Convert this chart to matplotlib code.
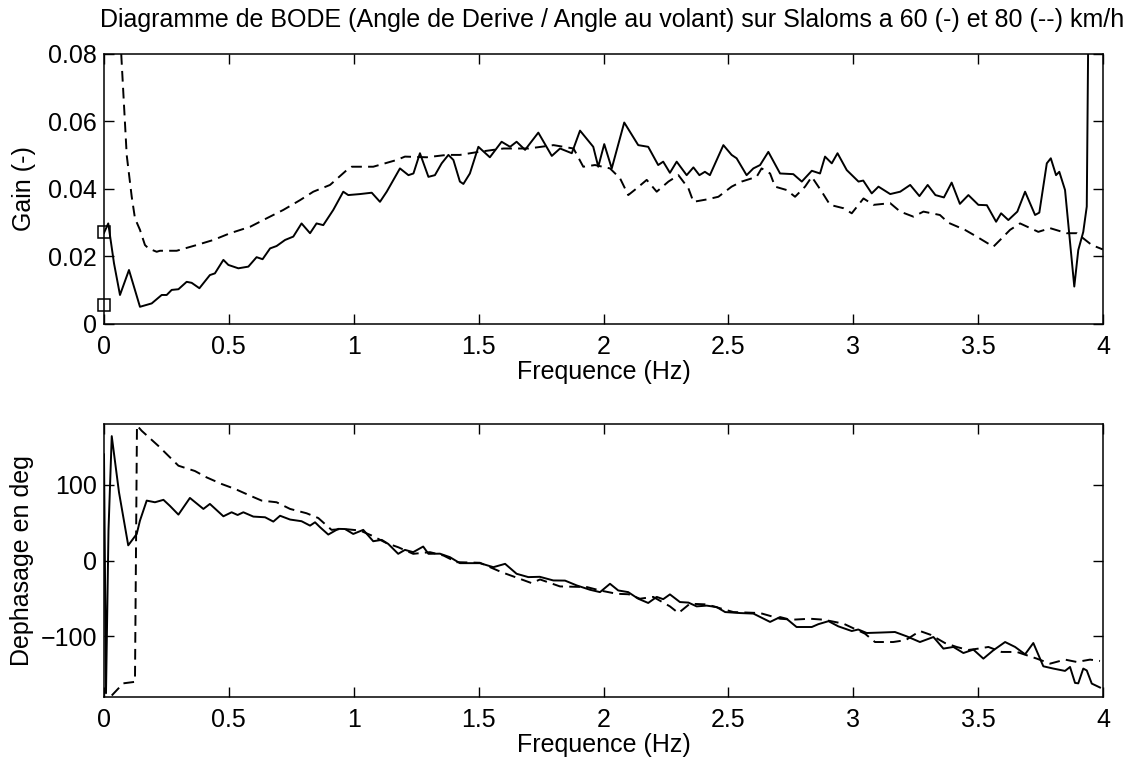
import matplotlib
matplotlib.use("Agg")
import matplotlib.pyplot as plt
import numpy as np

plt.rcParams['font.family'] = ['Liberation Sans', 'DejaVu Sans']

# ---- Gain, 60 km/h (solid) ----
f_gain_60 = [0.0, 0.017, 0.04, 0.064, 0.10, 0.144, 0.191, 0.231, 0.251, 0.271, 0.298, 0.331, 0.351, 0.382,
             0.424, 0.444, 0.478, 0.498, 0.538, 0.578, 0.611, 0.635, 0.665, 0.691, 0.725, 0.758, 0.791, 0.825,
             0.851, 0.878, 0.918, 0.958, 0.978, 1.025, 1.072, 1.105, 1.132, 1.185, 1.219, 1.239, 1.265, 1.299,
             1.325, 1.352, 1.379, 1.399, 1.425, 1.439, 1.465, 1.499, 1.545, 1.592, 1.626, 1.652, 1.686, 1.739,
             1.793, 1.826, 1.873, 1.906, 1.959, 1.979, 2.003, 2.033, 2.083, 2.139, 2.179, 2.219, 2.239, 2.266,
             2.293, 2.333, 2.360, 2.384, 2.406, 2.426, 2.480, 2.513, 2.533, 2.573, 2.600, 2.627, 2.660, 2.707,
             2.760, 2.794, 2.834, 2.867, 2.887, 2.914, 2.937, 2.974, 3.021, 3.040, 3.074, 3.101, 3.148, 3.188,
             3.228, 3.265, 3.298, 3.329, 3.363, 3.394, 3.427, 3.461, 3.501, 3.535, 3.572, 3.592, 3.621, 3.657,
             3.688, 3.728, 3.745, 3.775, 3.791, 3.812, 3.825, 3.848, 3.885, 3.901, 3.921, 3.935, 3.942]
gain_60 = [0.027, 0.0298, 0.018, 0.0086, 0.016, 0.0051, 0.0061, 0.0086, 0.0086, 0.0101, 0.0103, 0.0125, 0.0122, 0.0106,
           0.0145, 0.0150, 0.0190, 0.0175, 0.0165, 0.0170, 0.0198, 0.0192, 0.0224, 0.0231, 0.0249, 0.0259, 0.0298, 0.0269,
           0.0298, 0.0293, 0.0338, 0.0392, 0.0382, 0.0385, 0.0389, 0.0362, 0.0392, 0.0461, 0.0441, 0.0446, 0.0506, 0.0436,
           0.0441, 0.0476, 0.0501, 0.0486, 0.0422, 0.0415, 0.0446, 0.0525, 0.0494, 0.0540, 0.0525, 0.0540, 0.0516, 0.0567,
           0.0498, 0.0520, 0.0506, 0.0573, 0.0525, 0.0466, 0.0533, 0.0461, 0.0597, 0.0530, 0.0525, 0.0471, 0.0481, 0.0448,
           0.0481, 0.0441, 0.0464, 0.0441, 0.0451, 0.0441, 0.0530, 0.0501, 0.0491, 0.0441, 0.0461, 0.0471, 0.0510, 0.0446,
           0.0444, 0.0422, 0.0454, 0.0446, 0.0496, 0.0476, 0.0506, 0.0456, 0.0422, 0.0425, 0.0387, 0.0407, 0.0385, 0.0392,
           0.0412, 0.0379, 0.0412, 0.0382, 0.0375, 0.0419, 0.0356, 0.0382, 0.0353, 0.0352, 0.0303, 0.0328, 0.0308, 0.0333,
           0.0392, 0.0323, 0.0330, 0.0476, 0.0491, 0.0441, 0.0451, 0.0397, 0.0111, 0.0219, 0.0273, 0.0348, 0.0950]

# ---- Gain, 80 km/h (dashed) ----
f_gain_80 = [0.062, 0.071, 0.091, 0.111, 0.124, 0.144, 0.164, 0.178, 0.211, 0.224, 0.291, 0.371, 0.438, 0.505,
             0.585, 0.651, 0.718, 0.785, 0.838, 0.905, 0.972, 0.992, 1.078, 1.172, 1.205, 1.292, 1.372, 1.425,
             1.5, 1.6, 1.7, 1.8, 1.88, 1.919, 1.966, 2.026, 2.066, 2.099, 2.133, 2.173, 2.213, 2.260, 2.300,
             2.340, 2.360, 2.413, 2.460, 2.513, 2.553, 2.613, 2.633, 2.667, 2.687, 2.733, 2.767, 2.807, 2.834,
             2.874, 2.907, 2.961, 2.994, 3.041, 3.081, 3.148, 3.188, 3.241, 3.281, 3.347, 3.381, 3.447, 3.494,
             3.561, 3.588, 3.628, 3.668, 3.741, 3.788, 3.855, 3.895, 3.955, 3.999]
gain_80 = [0.090, 0.0772, 0.050, 0.0377, 0.0313, 0.0279, 0.0234, 0.0224, 0.0214, 0.0217, 0.0217, 0.0234, 0.0249, 0.0269,
           0.0288, 0.0313, 0.0338, 0.0367, 0.0392, 0.0412, 0.0456, 0.0466, 0.0466, 0.0486, 0.0496, 0.0494, 0.0501, 0.0501,
           0.051, 0.052, 0.052, 0.053, 0.052, 0.0466, 0.0471, 0.0461, 0.0432, 0.0382, 0.0402, 0.0427, 0.0392, 0.0422, 0.0441,
           0.0402, 0.0362, 0.0369, 0.0377, 0.0407, 0.0422, 0.0436, 0.0461, 0.0446, 0.0407, 0.0397, 0.0377, 0.0407, 0.0436,
           0.0392, 0.0353, 0.0343, 0.0328, 0.0372, 0.0353, 0.0358, 0.0333, 0.0318, 0.0333, 0.0323, 0.0300, 0.0279, 0.0259,
           0.0229, 0.0249, 0.0279, 0.0298, 0.0273, 0.0284, 0.0269, 0.0269, 0.0234, 0.0221]

# ---- square markers at f = 0 ----
f_marks = [0.0, 0.0]
gain_marks = [0.0273, 0.0056]

# ---- Phase, 60 km/h (solid) ----
f_phase_60 = [0.0, 0.008, 0.018, 0.031, 0.06, 0.097, 0.131, 0.144, 0.171, 0.204, 0.238, 0.264, 0.298, 0.344, 0.398,
              0.424, 0.478, 0.511, 0.535, 0.558, 0.598, 0.645, 0.678, 0.705, 0.745, 0.791, 0.825, 0.845, 0.865,
              0.898, 0.938, 0.965, 0.998, 1.038, 1.078, 1.112, 1.138, 1.178, 1.205, 1.238, 1.278, 1.299, 1.345,
              1.385, 1.425, 1.505, 1.559, 1.606, 1.652, 1.699, 1.745, 1.799, 1.846, 1.893, 1.946, 1.986, 2.026,
              2.059, 2.099, 2.139, 2.179, 2.213, 2.239, 2.266, 2.306, 2.340, 2.373, 2.413, 2.453, 2.487, 2.547,
              2.600, 2.667, 2.707, 2.733, 2.773, 2.834, 2.860, 2.901, 2.940, 2.994, 3.020, 3.054, 3.110, 3.167,
              3.214, 3.267, 3.321, 3.361, 3.401, 3.441, 3.481, 3.521, 3.561, 3.608, 3.648, 3.688, 3.721, 3.761,
              3.801, 3.848, 3.868, 3.888, 3.901, 3.921, 3.935, 3.955, 3.988]
phase_60 = [140, -175, 40, 164, 90, 20, 35, 52.6, 79, 76.8, 80, 72, 60.5, 82.5, 68,
            74.6, 58.3, 63.6, 60, 63.6, 57.9, 57, 51.3, 59, 54, 51.8, 46, 50.4, 43.9,
            34.2, 41.7, 41.5, 35, 40.4, 25.4, 27.2, 21.9, 8.8, 14, 11, 18.4, 8.8, 9,
            4.4, -3.5, -3.5, -8.8, -4.4, -17.5, -21.9, -21.5, -26.3, -26.5, -32.9, -38.6, -41.7, -30.7,
            -39.5, -41.7, -50.4, -56, -48, -51, -44.7, -54.8, -55.5, -60.5, -59.5, -61.4, -68, -69.3,
            -70, -81, -74.6, -76.8, -87.7, -87.7, -84, -80, -86.8, -93, -91, -95.6, -95, -94.3,
            -100, -107.5, -100.9, -116.2, -114, -122, -117.5, -129.4, -118.4, -107.5, -114, -123.7, -108.8, -139.5,
            -142.5, -145.6, -140.4, -161.4, -162, -142.5, -145, -162.3, -167.5]

# ---- Phase, 80 km/h (dashed) ----
f_phase_80 = [0.031, 0.077, 0.124, 0.132, 0.151, 0.218, 0.298, 0.364, 0.411, 0.471, 0.525, 0.585, 0.631, 0.691,
              0.745, 0.811, 0.858, 0.911, 0.958, 1.025, 1.072, 1.132, 1.178, 1.238, 1.305, 1.359, 1.412, 1.505,
              1.592, 1.639, 1.712, 1.746, 1.826, 1.933, 1.986, 2.053, 2.100, 2.146, 2.199, 2.266, 2.300, 2.346,
              2.413, 2.520, 2.627, 2.707, 2.760, 2.827, 2.880, 2.961, 3.047, 3.087, 3.160, 3.210, 3.267, 3.310,
              3.367, 3.414, 3.460, 3.501, 3.541, 3.594, 3.655, 3.735, 3.788, 3.848, 3.895, 3.948, 3.988]
phase_80 = [-178, -162, -160, 178, 171, 151, 125, 118, 109.6, 100.9, 94.3, 85.5, 79, 76.8,
            68, 62.3, 56, 40.4, 41.7, 39.5, 32.9, 22.8, 17.5, 8.8, 11, 6.6, -2.2, -3,
            -15.4, -21, -29.8, -25, -34.2, -35, -39.5, -43.9, -44.5, -50.4, -48, -60.5, -69.3, -57,
            -57.9, -68, -69.3, -76.8, -78, -76.8, -78, -83.3, -96.5, -107.5, -107.5, -105, -93, -98,
            -108.8, -114, -118, -116.2, -114, -120.6, -120.6, -129.4, -136, -130.7, -133.8, -130.7, -132.5]

x_ticks = [0, 0.5, 1, 1.5, 2, 2.5, 3, 3.5, 4]
x_ticklabels = ['0', '0.5', '1', '1.5', '2', '2.5', '3', '3.5', '4']
gain_ticks = [0, 0.02, 0.04, 0.06, 0.08]
gain_ticklabels = ['0', '0.02', '0.04', '0.06', '0.08']
phase_ticks = [-100, 0, 100]
phase_ticklabels = ['\u2212100', '0', '100']

title = "Diagramme de BODE (Angle de Derive / Angle au volant) sur Slaloms a 60 (-) et 80 (--) km/h"

W, H = 1141, 764
fig = plt.figure(figsize=(W / 100, H / 100), dpi=100)
FS = 18
LW = 1.4
DASH = (5.5, 3.2)

def px_axes(left, top, right, bottom):
    return [left / W, 1 - bottom / H, (right - left) / W, (bottom - top) / H]

ax1 = fig.add_axes(px_axes(104, 54, 1103, 324))
ax2 = fig.add_axes(px_axes(104, 424, 1103, 697))

for ax in (ax1, ax2):
    ax.set_xlim(0, 4)
    ax.set_xticks(x_ticks)
    ax.set_xticklabels(x_ticklabels)
    ax.tick_params(direction='in', length=7, width=1.0, top=True, right=True,
                   labelsize=FS, colors='black')
    ax.tick_params(axis='x', pad=8)
    ax.tick_params(axis='y', pad=5)
    for s in ax.spines.values():
        s.set_linewidth(1.1)
        s.set_color('black')
    ax.set_xlabel('Frequence (Hz)', fontsize=FS, labelpad=0.5)

ax1.plot(f_gain_60, gain_60, color='black', lw=LW, solid_joinstyle='round')
ax1.plot(f_gain_80, gain_80, color='black', lw=LW, linestyle=(0, DASH))
ax1.plot(f_marks, gain_marks, linestyle='none', marker='s', ms=8, mfc='none', mec='black', mew=1.1, clip_on=False)
ax1.set_ylim(0, 0.08)
ax1.set_yticks(gain_ticks)
ax1.set_yticklabels(gain_ticklabels)
ax1.set_ylabel('Gain (-)', fontsize=FS)
ax1.yaxis.set_label_coords(-0.068, 0.5)

ax2.plot(f_phase_60, phase_60, color='black', lw=LW, solid_joinstyle='round')
ax2.plot(f_phase_80, phase_80, color='black', lw=LW, linestyle=(0, DASH))
ax2.set_ylim(-180, 180)
ax2.set_yticks(phase_ticks)
ax2.set_yticklabels(phase_ticklabels)
ax2.set_ylabel('Dephasage en deg', fontsize=FS)
ax2.yaxis.set_label_coords(-0.07, 0.5)

fig.text(612 / W, 1 - 20 / H, title, ha='center', va='center', fontsize=FS)

fig.savefig('out.png', dpi=100, facecolor='white')
